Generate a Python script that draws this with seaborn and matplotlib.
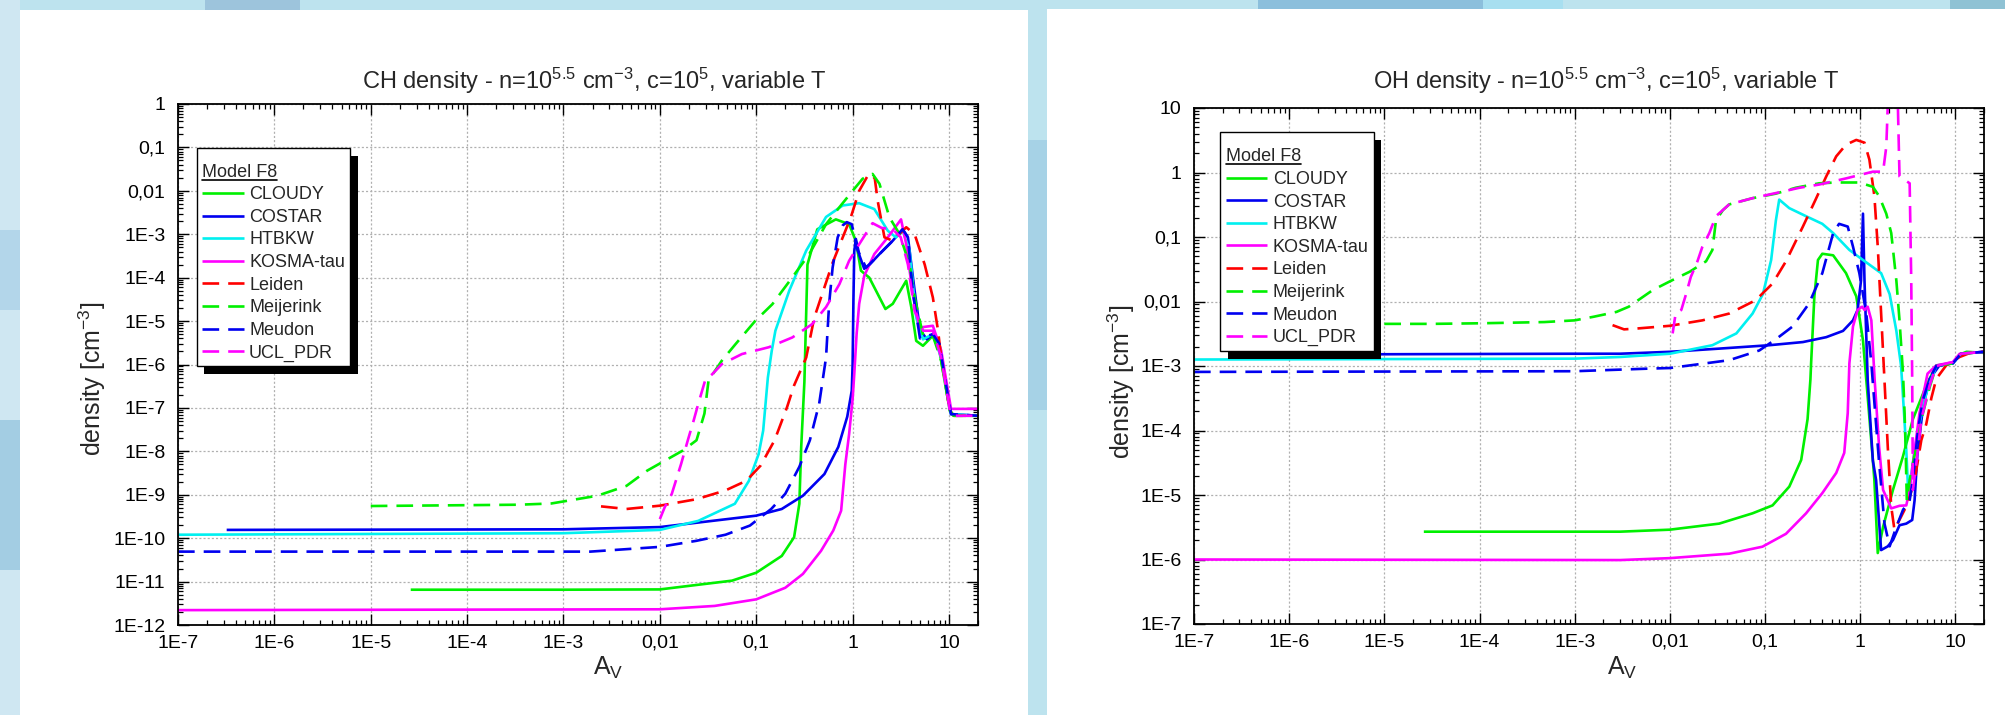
import numpy as np
import pandas as pd
import seaborn as sns
import matplotlib
matplotlib.use("Agg")
import matplotlib.pyplot as plt
from matplotlib.ticker import FixedLocator, FixedFormatter, LogLocator, NullFormatter
from matplotlib.patches import Rectangle
from matplotlib.lines import Line2D
from matplotlib.transforms import IdentityTransform

# ------------------------------------------------------------------ data
MODELS = ["CLOUDY", "COSTAR", "HTBKW", "KOSMA-tau", "Leiden", "Meijerink", "Meudon", "UCL_PDR"]

X_TICKS = [1e-7, 1e-6, 1e-5, 1e-4, 1e-3, 1e-2, 1e-1, 1, 10]
X_TICK_LABELS = ["1E-7", "1E-6", "1E-5", "1E-4", "1E-3", "0,01", "0,1", "1", "10"]
CH_Y_TICKS = [1e-12, 1e-11, 1e-10, 1e-9, 1e-8, 1e-7, 1e-6, 1e-5, 1e-4, 1e-3, 1e-2, 1e-1, 1]
CH_Y_TICK_LABELS = ["1E-12", "1E-11", "1E-10", "1E-9", "1E-8", "1E-7", "1E-6", "1E-5",
                    "1E-4", "1E-3", "0,01", "0,1", "1"]
OH_Y_TICKS = [1e-7, 1e-6, 1e-5, 1e-4, 1e-3, 1e-2, 1e-1, 1, 10]
OH_Y_TICK_LABELS = ["1E-7", "1E-6", "1E-5", "1E-4", "1E-3", "0,01", "0,1", "1", "10"]

# ---- CH density
CH_CLOUDY_AV = [2.6e-5, 1e-3, 1e-2, 5.6e-2, 0.1, 0.184, 0.247, 0.28, 0.293, 0.316, 0.34, 0.43, 0.67, 0.92,
                1.08, 1.22, 1.49, 2.19, 2.61, 3.6, 4.06, 4.57, 5.37, 6.8, 7.94, 10.2, 11.2, 20]
CH_CLOUDY_N = [6.5e-12, 6.5e-12, 6.6e-12, 1.05e-11, 1.6e-11, 3.9e-11, 1.05e-10, 6.2e-10, 1.3e-8, 4e-7, 2e-4,
               1.3e-3, 2.2e-3, 1.7e-3, 7e-4, 1.45e-4, 1e-4, 1.9e-5, 2.5e-5, 8.5e-5, 2.1e-5, 3.5e-6, 2.7e-6,
               4.6e-6, 2.1e-6, 8.7e-8, 6.6e-8, 6.6e-8]
CH_COSTAR_AV = [3.2e-7, 1e-3, 1e-2, 0.1, 0.184, 0.305, 0.51, 0.71, 0.88, 0.98, 1.0, 1.02, 1.04, 1.08, 1.18,
                1.32, 1.5, 1.9, 2.61, 3.3, 3.75, 4.4, 5.0, 5.9, 6.8, 7.94, 9.3, 10.5, 20]
CH_COSTAR_N = [1.55e-10, 1.6e-10, 1.8e-10, 3.3e-10, 4.7e-10, 9.5e-10, 3e-9, 1.26e-8, 6.3e-8, 2.5e-7, 1e-6,
               3.2e-5, 4e-4, 7.8e-4, 3.2e-4, 1.6e-4, 2e-4, 3.5e-4, 7.1e-4, 1.3e-3, 8.5e-4, 5e-5, 6.3e-6,
               3.8e-6, 5e-6, 3e-6, 3.5e-7, 7.2e-8, 6.6e-8]
CH_HTBKW_AV = [1e-7, 1e-3, 1e-2, 0.025, 0.06, 0.084, 0.106, 0.118, 0.132, 0.145, 0.158, 0.22, 0.33, 0.53,
               0.79, 1.17, 1.68, 2.32, 2.82, 3.31, 3.9, 4.57, 5.37, 6.8, 8.3, 10.5, 20]
CH_HTBKW_N = [1.2e-10, 1.3e-10, 1.55e-10, 2.5e-10, 6.2e-10, 2.1e-9, 8.7e-9, 3e-8, 5e-7, 2.1e-6, 6e-6, 5e-5,
              4.2e-4, 2.5e-3, 4.6e-3, 5.2e-3, 3.8e-3, 1.2e-3, 8.5e-4, 1.2e-3, 4.2e-4, 1.2e-5, 3.8e-6, 5e-6,
              1.45e-6, 7.2e-8, 6.6e-8]
CH_KOSMA_AV = [1e-7, 1e-2, 0.037, 0.1, 0.2, 0.305, 0.47, 0.63, 0.76, 0.84, 0.92, 1.0, 1.04, 1.1, 1.17,
               1.32, 1.68, 2.32, 3.18, 3.6, 4.2, 4.94, 6.8, 8.3, 10.5, 20]
CH_KOSMA_N = [2.2e-12, 2.3e-12, 2.75e-12, 3.9e-12, 7.2e-12, 1.5e-11, 5.1e-11, 1.5e-10, 4.3e-10, 5e-9, 2.5e-8,
              1.6e-7, 6e-7, 5e-6, 2.5e-5, 1.1e-4, 3.5e-4, 8.5e-4, 2.2e-3, 5.9e-4, 4.2e-5, 7.1e-6, 7.8e-6,
              2.1e-6, 9.5e-8, 9.5e-8]
CH_LEIDEN_AV = [2.45e-3, 4.5e-3, 1e-2, 0.024, 0.048, 0.079, 0.111, 0.155, 0.209, 0.247, 0.33, 0.4, 0.51,
                0.62, 0.79, 0.96, 1.17, 1.43, 1.58, 1.7, 1.82, 2.14, 2.61, 3.6, 4.4, 5.6, 6.8, 7.7, 8.3,
                10.2, 11.2, 20]
CH_LEIDEN_N = [5.4e-10, 4.7e-10, 5.6e-10, 7.9e-10, 1.26e-9, 2.1e-9, 4.7e-9, 1.8e-8, 1.05e-7, 3.3e-7, 1.45e-6,
               1.2e-5, 6e-5, 2.2e-4, 8.5e-4, 2.5e-3, 1e-2, 2.2e-2, 2.4e-2, 1.9e-2, 5.9e-3, 8.5e-4, 7.1e-4,
               1.45e-3, 1e-3, 2e-4, 3.5e-5, 6e-6, 1.45e-6, 8.7e-8, 6.6e-8, 6.6e-8]
CH_MEIJERINK_AV = [1e-5, 3.5e-4, 7.5e-4, 2.25e-3, 4.5e-3, 7.4e-3, 1.23e-2, 1.74e-2, 2.4e-2, 2.9e-2, 3.2e-2,
                   0.044, 0.061, 0.098, 0.147, 0.237, 0.355, 0.53, 0.73, 1.0, 1.27, 1.61, 1.9, 2.41, 3.06,
                   3.9, 4.4, 5.4, 6.8, 8.3, 10.2, 11.2, 20]
CH_MEIJERINK_N = [5.5e-10, 5.9e-10, 6.3e-10, 9.5e-10, 1.6e-9, 3.6e-9, 6.8e-9, 1.05e-8, 1.8e-8, 7.4e-8, 4.3e-7,
                  1.23e-6, 2.95e-6, 1.02e-5, 2.45e-5, 1.02e-4, 3.5e-4, 1.7e-3, 4.2e-3, 1e-2, 1.9e-2, 2.45e-2,
                  1.45e-2, 2.45e-3, 1.02e-3, 2e-4, 3.5e-5, 4.6e-6, 4.6e-6, 1.23e-6, 8.7e-8, 6.6e-8, 6.6e-8]
CH_MEUDON_AV = [1e-7, 1.9e-3, 1e-2, 0.024, 0.048, 0.086, 0.143, 0.2, 0.28, 0.36, 0.45, 0.53, 0.57, 0.62, 0.7,
                0.79, 0.87, 0.98, 1.13, 1.38, 1.9, 2.61, 3.3, 3.75, 4.2, 5.0, 6.8, 7.94, 9.3, 10.5, 20]
CH_MEUDON_N = [4.9e-11, 4.9e-11, 6.3e-11, 8.7e-11, 1.2e-10, 1.95e-10, 4.7e-10, 1.05e-9, 4.4e-9, 1.8e-8,
               1.26e-7, 1.45e-6, 2.45e-5, 1.7e-4, 8.5e-4, 1.6e-3, 1.9e-3, 1.7e-3, 4.2e-4, 1.7e-4, 3.5e-4,
               7.1e-4, 1.3e-3, 8.5e-4, 5e-5, 4e-6, 5e-6, 3e-6, 3.5e-7, 7.2e-8, 6.6e-8]
CH_UCL_AV = [1e-2, 1.12e-2, 1.33e-2, 1.66e-2, 1.95e-2, 2.24e-2, 2.5e-2, 2.95e-2, 3.5e-2, 4.4e-2, 7.1e-2,
             0.135, 0.237, 0.38, 0.53, 0.73, 0.92, 1.17, 1.61, 2.0, 2.61, 3.16, 3.75, 4.4, 5.4, 6.8, 8.3,
             10.2, 11.2, 20]
CH_UCL_N = [2.75e-10, 5.1e-10, 1.05e-9, 5.1e-9, 1.8e-8, 5.1e-8, 1.23e-7, 4.3e-7, 6e-7, 1.02e-6, 1.74e-6,
            2.5e-6, 4.2e-6, 8.5e-6, 2.1e-5, 7.1e-5, 2.45e-4, 5.9e-4, 1.8e-3, 1.4e-3, 1.3e-3, 8.5e-4, 2e-4,
            1.7e-5, 6e-6, 6e-6, 1.45e-6, 8.7e-8, 6.6e-8, 6.6e-8]

# ---- OH density
OH_CLOUDY_AV = [2.6e-5, 3e-3, 1e-2, 3.3e-2, 7.4e-2, 0.12, 0.18, 0.24, 0.28, 0.30, 0.305, 0.33, 0.36, 0.4,
                0.52, 0.71, 0.91, 1.07, 1.2, 1.36, 1.41, 1.53, 1.74, 2.21, 2.82, 3.58, 4.95, 6.3, 9.4, 11.1,
                13.1, 20]
OH_CLOUDY_N = [2.7e-6, 2.7e-6, 2.9e-6, 3.6e-6, 5.2e-6, 6.9e-6, 1.35e-5, 3.5e-5, 1.5e-4, 6.2e-4, 1.1e-3,
               1.2e-2, 4.4e-2, 5.5e-2, 5.2e-2, 2.75e-2, 1.2e-2, 2.5e-3, 3.3e-4, 3.4e-5, 1.7e-5, 1.26e-6,
               3.2e-6, 1.2e-5, 4e-5, 1.5e-4, 5e-4, 1.02e-3, 1.1e-3, 1.5e-3, 1.66e-3, 1.6e-3]
OH_COSTAR_AV = [3.2e-7, 1e-3, 3e-3, 1e-2, 3.3e-2, 0.111, 0.25, 0.44, 0.66, 0.84, 0.94, 1.02, 1.07, 1.11,
                1.2, 1.36, 1.47, 1.66, 1.95, 2.21, 2.59, 3.05, 3.52, 3.73, 3.98, 4.57, 5.37, 6.8, 9.4, 11.5, 20]
OH_COSTAR_N = [1.5e-3, 1.55e-3, 1.55e-3, 1.66e-3, 1.86e-3, 2.1e-3, 2.35e-3, 2.8e-3, 3.5e-3, 5.1e-3, 7.4e-3,
               2.1e-2, 0.23, 2.1e-2, 6e-4, 3.4e-5, 1.7e-5, 1.4e-6, 1.6e-6, 2e-6, 3.4e-6, 3.6e-6, 4.1e-6,
               8.3e-6, 4e-5, 2.3e-4, 6.3e-4, 1.02e-3, 1.1e-3, 1.55e-3, 1.66e-3]
OH_HTBKW_AV = [1e-7, 1e-3, 3e-3, 1e-2, 2.8e-2, 5e-2, 7.4e-2, 9.5e-2, 0.116, 0.13, 0.141, 0.18, 0.27, 0.40,
               0.52, 0.77, 1.07, 1.66, 2.04, 2.4, 2.69, 2.88, 3.05, 3.2, 3.58, 4.05, 4.95, 6.3, 9.4, 11.5, 20]
OH_HTBKW_N = [1.26e-3, 1.3e-3, 1.38e-3, 1.55e-3, 2.1e-3, 3.2e-3, 6.5e-3, 1.3e-2, 4.4e-2, 0.18, 0.38, 0.28,
              0.21, 0.16, 0.115, 6.3e-2, 4.4e-2, 2.75e-2, 1.3e-2, 3.5e-3, 1e-3, 2e-4, 5e-5, 1.07e-5, 3.1e-5,
              1.02e-4, 3.8e-4, 1e-3, 1.1e-3, 1.55e-3, 1.66e-3]
OH_KOSMA_AV = [1e-7, 3e-3, 1e-2, 4.2e-2, 9.4e-2, 0.166, 0.27, 0.40, 0.56, 0.68, 0.74, 0.77, 0.84, 0.94,
               1.05, 1.11, 1.2, 1.31, 1.42, 1.58, 1.74, 2.12, 2.59, 3.05, 3.31, 3.58, 4.2, 5.1, 6.3, 9.4,
               11.1, 20]
OH_KOSMA_N = [1e-6, 9.8e-7, 1.05e-6, 1.23e-6, 1.58e-6, 2.5e-6, 5.2e-6, 1.07e-5, 2.2e-5, 4.5e-5, 1.86e-4,
              1.1e-3, 4.1e-3, 7.4e-3, 8.3e-3, 7.4e-3, 8.3e-3, 5.1e-3, 6e-4, 5.6e-5, 1.2e-5, 6.2e-6, 6.8e-6,
              6.9e-6, 1.2e-5, 3.1e-5, 1.86e-4, 7.6e-4, 1.02e-3, 1.15e-3, 1.55e-3, 1.66e-3]
OH_LEIDEN_AV = [2.5e-3, 3.3e-3, 4.4e-3, 1e-2, 2.2e-2, 4.2e-2, 8e-2, 0.12, 0.166, 0.25, 0.34, 0.44, 0.56,
                0.71, 0.91, 1.11, 1.25, 1.41, 1.53, 1.66, 1.8, 1.95, 2.12, 2.29, 2.69, 3.16, 3.73, 4.39,
                4.95, 5.6, 6.3, 8.0, 11.1, 15.3, 20]
OH_LEIDEN_N = [4.3e-3, 3.7e-3, 3.8e-3, 4.2e-3, 5.1e-3, 6.5e-3, 1.05e-2, 1.9e-2, 4.2e-2, 0.145, 0.38, 0.87,
               1.78, 2.7, 3.2, 2.9, 1.58, 0.43, 7.1e-2, 6.5e-3, 6e-4, 5.5e-5, 6.6e-6, 2.9e-6, 4.6e-6, 7.4e-6,
               1.7e-5, 7.1e-5, 1.26e-4, 3.2e-4, 6.3e-4, 1.02e-3, 1.38e-3, 1.66e-3, 1.66e-3]
OH_MEIJERINK_AV = [1e-5, 3.2e-5, 1.07e-4, 4.8e-4, 1e-3, 1.58e-3, 2.75e-3, 3.7e-3, 6.6e-3, 1e-2, 1.62e-2,
                   2.4e-2, 2.8e-2, 3.05e-2, 3.6e-2, 4.2e-2, 7.4e-2, 0.13, 0.21, 0.37, 0.56, 0.98, 1.36, 1.58,
                   1.88, 2.12, 2.4, 2.59, 2.82, 2.93, 3.0, 3.09, 3.31, 3.89, 4.57, 5.4, 6.3, 9.4, 11.5, 20]
OH_MEIJERINK_N = [4.5e-3, 4.5e-3, 4.6e-3, 4.8e-3, 5.1e-3, 5.8e-3, 6.9e-3, 8.3e-3, 1.5e-2, 2.05e-2, 2.9e-2,
                  4.2e-2, 6.3e-2, 0.18, 0.26, 0.32, 0.4, 0.47, 0.58, 0.68, 0.7, 0.7, 0.6, 0.43, 0.23, 0.115,
                  2.1e-2, 5.1e-3, 7.6e-4, 1.8e-4, 5.6e-5, 8.3e-6, 1.7e-5, 5.6e-5, 1.86e-4, 4.8e-4, 1e-3,
                  1.1e-3, 1.55e-3, 1.66e-3]
OH_MEUDON_AV = [1e-7, 1e-3, 5.9e-3, 1e-2, 4.2e-2, 8.7e-2, 0.13, 0.195, 0.29, 0.40, 0.52, 0.6, 0.74, 0.84,
                0.98, 1.16, 1.31, 1.45, 1.58, 1.8, 2.04, 2.4, 2.82, 3.31, 3.58, 4.05, 4.57, 5.37, 6.3, 9.4,
                11.5, 20]
OH_MEUDON_N = [8.1e-4, 8.3e-4, 9.1e-4, 9.3e-4, 1.23e-3, 1.74e-3, 2.6e-3, 4.1e-3, 9.3e-3, 2.75e-2, 0.115,
               0.16, 0.145, 7.1e-2, 2.75e-2, 6.5e-3, 1.1e-3, 1.6e-4, 3.2e-5, 3.6e-6, 1.6e-6, 3.2e-6, 5.9e-6,
               8.3e-6, 1.7e-5, 1.02e-4, 3e-4, 6.3e-4, 1e-3, 1.1e-3, 1.55e-3, 1.66e-3]
OH_UCL_AV = [1.07e-2, 1.15e-2, 1.32e-2, 1.48e-2, 1.66e-2, 1.95e-2, 2.2e-2, 2.6e-2, 3.05e-2, 4.2e-2, 7.4e-2,
             0.13, 0.23, 0.37, 0.71, 1.36, 1.74, 1.88, 2.0, 2.45, 2.59, 3.31, 3.44, 3.52, 3.58, 3.89, 4.39,
             5.37, 6.3, 9.4, 11.5, 20]
OH_UCL_N = [3.2e-3, 6.5e-3, 7.4e-3, 1.3e-2, 2.4e-2, 4.2e-2, 7.1e-2, 0.115, 0.21, 0.32, 0.4, 0.48, 0.58,
            0.65, 0.81, 1.03, 1.03, 2.5, 30, 30, 0.87, 0.68, 2.1e-2, 6e-4, 1.2e-5, 3.1e-5, 1.5e-4, 5e-4,
            1e-3, 1.15e-3, 1.55e-3, 1.66e-3]

CH_SERIES = [(CH_CLOUDY_AV, CH_CLOUDY_N), (CH_COSTAR_AV, CH_COSTAR_N), (CH_HTBKW_AV, CH_HTBKW_N),
             (CH_KOSMA_AV, CH_KOSMA_N), (CH_LEIDEN_AV, CH_LEIDEN_N), (CH_MEIJERINK_AV, CH_MEIJERINK_N),
             (CH_MEUDON_AV, CH_MEUDON_N), (CH_UCL_AV, CH_UCL_N)]
OH_SERIES = [(OH_CLOUDY_AV, OH_CLOUDY_N), (OH_COSTAR_AV, OH_COSTAR_N), (OH_HTBKW_AV, OH_HTBKW_N),
             (OH_KOSMA_AV, OH_KOSMA_N), (OH_LEIDEN_AV, OH_LEIDEN_N), (OH_MEIJERINK_AV, OH_MEIJERINK_N),
             (OH_MEUDON_AV, OH_MEUDON_N), (OH_UCL_AV, OH_UCL_N)]

# ------------------------------------------------------------------ style
COLORS = ["#00f000", "#0000f0", "#00f0f0", "#ff00ff", "#ff0000", "#00f000", "#0000f0", "#ff00ff"]
DASHED = [False, False, False, False, True, True, True, True]

sns.set_theme(style="white")
plt.rcParams["font.family"] = ["Liberation Sans", "DejaVu Sans"]
plt.rcParams["mathtext.fontset"] = "custom"
plt.rcParams["mathtext.rm"] = "Liberation Sans"
plt.rcParams["mathtext.it"] = "Liberation Sans"
plt.rcParams["mathtext.default"] = "regular"
plt.rcParams["lines.scale_dashes"] = False

W, H = 2005, 715
fig = plt.figure(figsize=(W / 100, H / 100), dpi=100)
fig.patch.set_facecolor("#bde3ee")


def px_rect(x, y, w, h, color, z=-10):
    fig.add_artist(Rectangle((x / W, 1 - (y + h) / H), w / W, h / H, transform=fig.transFigure,
                             facecolor=color, edgecolor="none", zorder=z))


# background mosaic + white cards
px_rect(0, 0, 20, 715, "#cfe7f2")
px_rect(0, 230, 20, 80, "#b3d6ea")
px_rect(0, 420, 20, 150, "#a3cde3")
px_rect(205, 0, 95, 12, "#9dc4dc")
px_rect(1258, 0, 225, 12, "#8cbfdc")
px_rect(1483, 0, 80, 12, "#a8dff0")
px_rect(1950, 0, 55, 12, "#8fc2d4")
px_rect(1028, 140, 19, 270, "#a6d2e6")
px_rect(20, 10, 1008, 705, "white", z=-9)
px_rect(1047, 9, 958, 706, "white", z=-9)

ax_ch = fig.add_axes([178 / W, 1 - 625 / H, 800 / W, 521 / H])
ax_oh = fig.add_axes([1194 / W, 1 - 624 / H, 790 / W, 516 / H])


def style_axes(ax, yticks, ylabels, ylim):
    ax.set_xscale("log")
    ax.set_yscale("log")
    ax.set_xlim(1e-7, 20)
    ax.set_ylim(*ylim)
    ax.xaxis.set_major_locator(FixedLocator(X_TICKS))
    ax.xaxis.set_major_formatter(FixedFormatter(X_TICK_LABELS))
    ax.xaxis.set_minor_locator(LogLocator(base=10, subs=np.arange(2, 10), numticks=100))
    ax.xaxis.set_minor_formatter(NullFormatter())
    ax.yaxis.set_major_locator(FixedLocator(yticks))
    ax.yaxis.set_major_formatter(FixedFormatter(ylabels))
    ax.yaxis.set_minor_locator(LogLocator(base=10, subs=np.arange(2, 10), numticks=100))
    ax.yaxis.set_minor_formatter(NullFormatter())
    ax.tick_params(which="both", direction="in", top=True, right=True, bottom=True, left=True,
                   colors="black")
    ax.tick_params(which="major", length=8, width=1.0, labelsize=14)
    ax.tick_params(which="minor", length=3.6, width=0.9)
    ax.tick_params(axis="x", which="major", pad=7)
    ax.tick_params(axis="y", which="major", pad=9)
    ax.grid(True, which="major", color="#b0b0b0", linestyle=(0, (1.5, 1.5)), linewidth=0.9)
    ax.grid(False, which="minor")
    for sp in ax.spines.values():
        sp.set_visible(True)
        sp.set_color("black")
        sp.set_linewidth(1.3)
    ax.set_facecolor("white")


def draw_panel(ax, series):
    for name, (av, n), col, dashed in zip(MODELS, series, COLORS, DASHED):
        df = pd.DataFrame({"AV": av, "density": n})
        sns.lineplot(data=df, x="AV", y="density", ax=ax, color=col, linewidth=1.9,
                     estimator=None, sort=False, label=name, legend=False)
        line = ax.lines[-1]
        line.set_linestyle((0, (12, 6.5)) if dashed else "-")
        line.set_solid_capstyle("butt")
        line.set_dash_capstyle("butt")
    ax.set_xlabel("")
    ax.set_ylabel("")


style_axes(ax_ch, CH_Y_TICKS, CH_Y_TICK_LABELS, (1e-12, 1))
style_axes(ax_oh, OH_Y_TICKS, OH_Y_TICK_LABELS, (1e-7, 10))
draw_panel(ax_ch, CH_SERIES)
draw_panel(ax_oh, OH_SERIES)
style_axes(ax_ch, CH_Y_TICKS, CH_Y_TICK_LABELS, (1e-12, 1))
style_axes(ax_oh, OH_Y_TICKS, OH_Y_TICK_LABELS, (1e-7, 10))

# legend: (axes, box left px, title centre px, box top px, box bottom px) in image pixels
LEGEND_BOXES = [(ax_ch, 196.7, 170.7, 146.0, 361.7), (ax_oh, 1220.3, 155.4, 130.7, 344.3)]
legends = []
for ax, left_px, title_px, top_px, bot_px in LEGEND_BOXES:
    leg = ax.legend(ax.lines[:8], MODELS, loc="upper left", bbox_to_anchor=(0.03, 0.9),
                    bbox_transform=ax.transAxes, borderaxespad=0, frameon=False,
                    fontsize=13, title="Model F8", title_fontsize=13, alignment="left",
                    handlelength=2.3, handletextpad=0.3, labelspacing=0.31, borderpad=0.3)
    leg.set_zorder(6)
    legends.append(leg)

# titles and labels
TITLE_CH = "CH density - n=10$^{5.5}$ cm$^{-3}$, c=10$^{5}$, variable T"
TITLE_OH = "OH density - n=10$^{5.5}$ cm$^{-3}$, c=10$^{5}$, variable T"
fig.text(594 / W, 1 - 89 / H, TITLE_CH, ha="center", va="baseline", fontsize=17)
fig.text(1606 / W, 1 - 89 / H, TITLE_OH, ha="center", va="baseline", fontsize=17)
fig.text(608 / W, 1 - 675 / H, "A$_{V}$", ha="center", va="baseline", fontsize=18)
fig.text(1622 / W, 1 - 675 / H, "A$_{V}$", ha="center", va="baseline", fontsize=18)
fig.text(92 / W, 1 - 379 / H, "density [cm$^{-3}$]", rotation=90, ha="center", va="center", fontsize=18)
fig.text(1121 / W, 1 - 382 / H, "density [cm$^{-3}$]", rotation=90, ha="center", va="center", fontsize=18)

# place legends precisely (two passes)
fig.canvas.draw()
for (ax, left_px, title_px, top_px, bot_px), leg in zip(LEGEND_BOXES, legends):
    bb = leg.get_window_extent()
    tb = leg.get_title().get_window_extent()
    dx = left_px - bb.x0
    dy = (H - title_px) - 0.5 * (tb.y0 + tb.y1) - 1.5
    anchor_disp = ax.transAxes.transform((0.03, 0.9))
    new_anchor = ax.transAxes.inverted().transform((anchor_disp[0] + dx, anchor_disp[1] + dy))
    leg.set_bbox_to_anchor(tuple(new_anchor), transform=ax.transAxes)
fig.canvas.draw()

for (ax, left_px, title_px, top_px, bot_px), leg in zip(LEGEND_BOXES, legends):
    bb = leg.get_window_extent()
    tb = leg.get_title().get_window_extent()
    last = leg.get_texts()[-1].get_window_extent()
    x0 = bb.x0
    x1 = bb.x1
    y_top = 0.5 * (tb.y0 + tb.y1) + 24.7
    y_bot = 0.5 * (last.y0 + last.y1) - 13.4
    ax.add_artist(Rectangle((x0 + 7.5, y_bot - 8), x1 - x0, y_top - y_bot, transform=IdentityTransform(),
                            facecolor="black", edgecolor="none", zorder=5.4, clip_on=False))
    ax.add_artist(Rectangle((x0, y_bot), x1 - x0, y_top - y_bot, transform=IdentityTransform(),
                            facecolor="white", edgecolor="black", linewidth=1.0, zorder=5.5,
                            clip_on=False))
    ax.add_artist(Line2D([tb.x0, tb.x1], [tb.y0 + 1, tb.y0 + 1], transform=IdentityTransform(),
                         color="black", linewidth=1.2, zorder=7, clip_on=False))

fig.savefig("out.png", dpi=100, facecolor=fig.get_facecolor())
